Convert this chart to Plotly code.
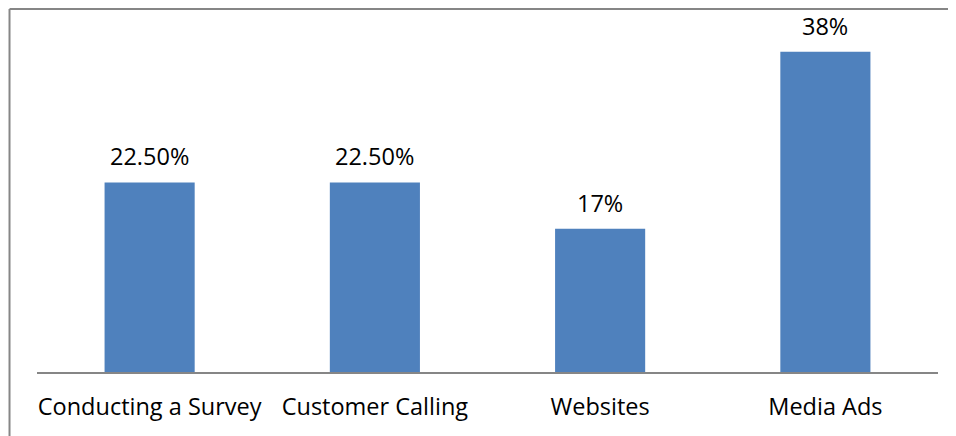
import plotly.graph_objects as go

# ── Data ─────────────────────────────────────────────────────────────────────
categories = ["Conducting a Survey", "Customer Calling", "Websites", "Media Ads"]
shares = [22.5, 22.5, 17, 38]
share_labels = ["22.50%", "22.50%", "17%", "38%"]

BAR = "#4F81BD"
GREY = "#868686"
FONT = "Open Sans, Noto Sans, Liberation Sans, sans-serif"
FS = 23.5

fig = go.Figure()
fig.add_trace(go.Bar(
    x=categories, y=shares,
    marker=dict(color=BAR, line_width=0),
    width=0.4,
    hoverinfo="skip",
))

# data labels sit a little above each bar
for cat, val, lab in zip(categories, shares, share_labels):
    fig.add_annotation(
        x=cat, y=val, text=lab,
        showarrow=False, yanchor="bottom", yshift=8,
        font=dict(size=FS, color="#000000", family=FONT),
    )

# chart-area border: only top and left edges are visible in the frame
BX, BY = -0.0305, 1.077
fig.add_shape(type="line", xref="paper", yref="paper",
              x0=BX, x1=1.2, y0=BY, y1=BY,
              line=dict(color=GREY, width=2))
fig.add_shape(type="line", xref="paper", yref="paper",
              x0=BX, x1=BX, y0=-0.5, y1=BY,
              line=dict(color=GREY, width=2))

# page body has an 8px margin, so the figure is shrunk by that amount
fig.update_layout(
    width=948, height=428,
    margin=dict(l=29, r=18, t=27, b=64),
    plot_bgcolor="#FFFFFF",
    paper_bgcolor="#FFFFFF",
    showlegend=False,
    font=dict(family=FONT, color="#000000"),
    xaxis=dict(
        showline=True, linecolor=GREY, linewidth=1.5,
        ticks="", tickfont=dict(size=FS),
        ticklabelstandoff=13,
    ),
    yaxis=dict(
        range=[0, 40], visible=False, showgrid=False, zeroline=False,
    ),
)

fig.write_html("out.html")
